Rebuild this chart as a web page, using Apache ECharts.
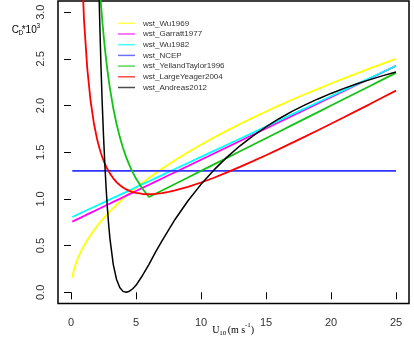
<!DOCTYPE html>
<html><head><meta charset="utf-8">
<script src="https://cdn.jsdelivr.net/npm/echarts@6/dist/echarts.min.js"></script>
<style>html,body{margin:0;padding:0;background:#fff}#c{width:414px;height:345px}</style>
</head><body><div id="c"></div>
<script>
// Wind speed U10 (m/s)
const windSpeed = [0.1,0.2,0.3,0.5,0.75,1,1.25,1.5,1.75,2,2.1,2.2,2.3,2.4,2.5,2.6,2.7,2.8,2.9,3,3.25,3.5,3.75,4,4.25,4.5,4.75,5,5.5,6,6.5,7,7.5,8,9,10,11,12,13,14,15,16,17,18,19,20,21,22,23,24,25];
const seriesNames = ['wst_Wu1969','wst_Garratt1977','wst_Wu1982','wst_NCEP','wst_YellandTaylor1996','wst_LargeYeager2004','wst_Andreas2012'];
const wu1969 = [0.158,0.224,0.274,0.354,0.433,0.5,0.559,0.612,0.661,0.707,0.725,0.742,0.758,0.775,0.791,0.806,0.822,0.837,0.851,0.866,0.901,0.935,0.968,1.0,1.031,1.061,1.09,1.118,1.173,1.225,1.275,1.323,1.369,1.414,1.5,1.581,1.658,1.732,1.803,1.871,1.936,2.0,2.062,2.121,2.179,2.236,2.291,2.345,2.398,2.449,2.5];
const garratt1977 = [0.757,0.763,0.77,0.784,0.8,0.817,0.834,0.851,0.867,0.884,0.891,0.897,0.904,0.911,0.918,0.924,0.931,0.938,0.944,0.951,0.968,0.985,1.001,1.018,1.035,1.052,1.068,1.085,1.119,1.152,1.186,1.219,1.253,1.286,1.353,1.42,1.487,1.554,1.621,1.688,1.755,1.822,1.889,1.956,2.023,2.09,2.157,2.224,2.291,2.358,2.425];
const wu1982 = [0.807,0.813,0.82,0.833,0.849,0.865,0.881,0.898,0.914,0.93,0.937,0.943,0.95,0.956,0.963,0.969,0.976,0.982,0.989,0.995,1.011,1.028,1.044,1.06,1.076,1.093,1.109,1.125,1.158,1.19,1.223,1.255,1.288,1.32,1.385,1.45,1.515,1.58,1.645,1.71,1.775,1.84,1.905,1.97,2.035,2.1,2.165,2.23,2.295,2.36,2.425];
const ncep = [1.3,1.3,1.3,1.3,1.3,1.3,1.3,1.3,1.3,1.3,1.3,1.3,1.3,1.3,1.3,1.3,1.3,1.3,1.3,1.3,1.3,1.3,1.3,1.3,1.3,1.3,1.3,1.3,1.3,1.3,1.3,1.3,1.3,1.3,1.3,1.3,1.3,1.3,1.3,1.3,1.3,1.3,1.3,1.3,1.3,1.3,1.3,1.3,1.3,1.3,1.3];
const yellandTaylor1996 = [null,null,null,null,null,null,null,null,null,3.765,3.512,3.29,3.094,2.919,2.762,2.621,2.494,2.379,2.275,2.179,1.973,1.805,1.665,1.546,1.445,1.359,1.284,1.218,1.109,1.02,1.055,1.09,1.125,1.16,1.23,1.3,1.37,1.44,1.51,1.58,1.65,1.72,1.79,1.86,1.93,2.0,2.07,2.14,2.21,2.28,2.35];
const largeYeager2004 = [null,null,null,null,3.799,2.918,2.398,2.057,1.819,1.645,1.588,1.537,1.492,1.45,1.413,1.379,1.348,1.32,1.295,1.271,1.221,1.18,1.149,1.123,1.102,1.086,1.073,1.064,1.053,1.05,1.054,1.063,1.075,1.091,1.13,1.176,1.227,1.284,1.343,1.405,1.468,1.533,1.6,1.667,1.736,1.805,1.875,1.946,2.016,2.089,2.16];
const andreas2012 = [null,null,null,null,null,null,null,null,null,4.2,3.55,2.95,2.45,2.03,1.68,1.38,1.12,0.9,0.72,0.57,0.3,0.14,0.052,0.01,0.0,0.012,0.038,0.075,0.18,0.3,0.43,0.55,0.667,0.78,0.98,1.156,1.311,1.448,1.569,1.676,1.772,1.859,1.937,2.007,2.071,2.13,2.184,2.233,2.278,2.321,2.36];
const xTicks = [0,5,10,15,20,25];
const yTicks = [0,0.5,1,1.5,2,2.5,3];

const colors = ['#ffff00','#ff00ff','#00ffff','#3333ff','#11c411','#ff0000','#000000'];
const allValues = [wu1969,garratt1977,wu1982,ncep,yellandTaylor1996,largeYeager2004,andreas2012];

function pairs(vals){ const out=[]; vals.forEach((v,i)=>{ if(v!==null) out.push([windSpeed[i], v]); }); return out; }

const chart = echarts.init(document.getElementById('c'), null, {renderer:'canvas'});
const sans = 'Liberation Sans, Arial, sans-serif';
const serif = 'Liberation Serif, Times New Roman, serif';
chart.setOption({
  animation:false,
  backgroundColor:'#fff',
  grid:{left:58,right:5,top:1,bottom:41.5,show:true,borderColor:'#000',borderWidth:1.5,backgroundColor:'transparent'},
  xAxis:{type:'value',min:-1,max:26,
    axisLine:{show:false},splitLine:{show:false},
    axisTick:{show:true,customValues:xTicks,length:7,lineStyle:{color:'#000',width:1}},
    axisLabel:{customValues:xTicks,margin:14,fontSize:11,color:'#333',fontFamily:sans}},
  yAxis:{type:'value',min:-0.12,max:3.12,
    axisLine:{show:false},splitLine:{show:false},
    axisTick:{show:true,customValues:yTicks,length:7,lineStyle:{color:'#000',width:1}},
    axisLabel:{customValues:yTicks,rotate:90,margin:12,fontSize:11,color:'#333',fontFamily:sans,formatter:v=>v.toFixed(1)}},
  legend:{orient:'vertical',left:118,top:18.3,padding:0,itemGap:0.7,icon:'rect',itemWidth:17,itemHeight:1.5,
    itemStyle:{opacity:0.7},
    textStyle:{fontSize:8,lineHeight:10,color:'#333',fontFamily:sans,padding:[0,0,0,3]},
    data:seriesNames},
  series: seriesNames.map((n,i)=>({
    name:n,type:'line',data:pairs(allValues[i]),showSymbol:false,symbol:'none',clip:true,
    color:colors[i],
    lineStyle:{color:colors[i],width:i===6?1.5:1.8}
  })),
  graphic:[
    {type:'text',style:{text:'U',x:212.3,y:330,font:'10px '+serif,fill:'#000',textVerticalAlign:'middle'}},
    {type:'text',style:{text:'10',x:219.3,y:333,font:'7px '+serif,fill:'#000',textVerticalAlign:'middle'}},
    {type:'text',style:{text:'(m s',x:227.7,y:330,font:'10px '+serif,fill:'#000',textVerticalAlign:'middle'}},
    {type:'text',style:{text:'-1',x:245,y:325,font:'7px '+serif,fill:'#000',textVerticalAlign:'middle'}},
    {type:'text',style:{text:')',x:250.8,y:330,font:'10px '+serif,fill:'#000',textVerticalAlign:'middle'}},
    {type:'text',style:{text:'C',x:11.7,y:30,font:'10px '+sans,fill:'#000',textVerticalAlign:'middle'}},
    {type:'text',style:{text:'D',x:18.5,y:33,font:'6.5px '+sans,fill:'#000',textVerticalAlign:'middle'}},
    {type:'text',style:{text:'*10',x:21.7,y:30,font:'10px '+sans,fill:'#000',textVerticalAlign:'middle'}},
    {type:'text',style:{text:'3',x:36.5,y:26,font:'6.5px '+sans,fill:'#000',textVerticalAlign:'middle'}}
  ]
});
</script></body></html>
